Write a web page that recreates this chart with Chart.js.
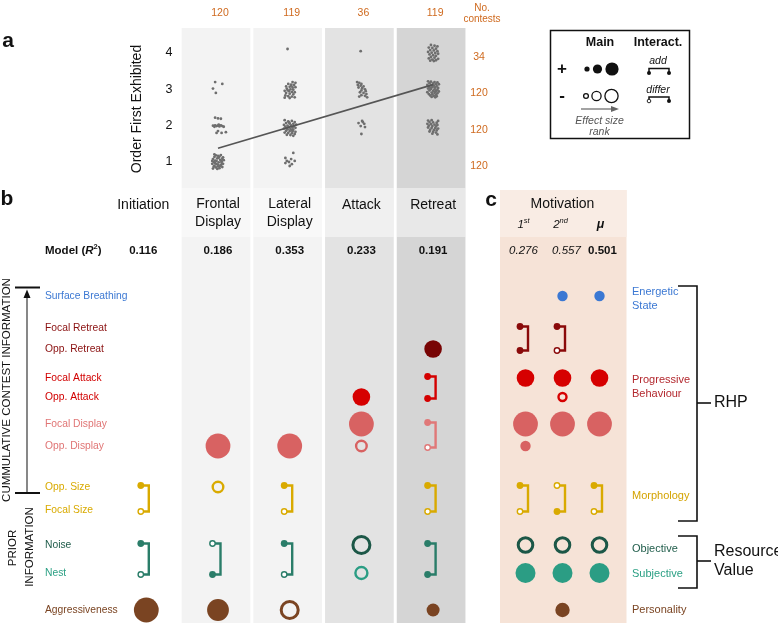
<!DOCTYPE html>
<html><head><meta charset="utf-8">
<script src="https://cdn.jsdelivr.net/npm/chart.js@4/dist/chart.umd.min.js"></script>
<style>html,body{margin:0;padding:0;background:#fff;}canvas{display:block;}</style>
</head><body>
<canvas id="c" width="778" height="623"></canvas>
<script>
// ================= DATA =================
// Panel a: order in which each behaviour was first exhibited
const orderColumns = ['Frontal Display', 'Lateral Display', 'Attack', 'Retreat'];
const contestsPerColumn = [120, 119, 36, 119];
const orderTicks = [1, 2, 3, 4];
const contestsPerOrder = [120, 120, 120, 34];
const trendLine = [1.38, 3.13]; // fitted order at Frontal Display and at Retreat
const frontalPoints = [[0.93,0.82],[0.97,0.85],[1.02,0.83],[1.06,0.86],[0.95,0.9],[1.0,0.88],[1.04,0.91],[0.92,0.95],[0.98,0.94],[1.07,0.95],[0.94,1.0],[1.01,0.99],[1.05,1.02],[0.96,1.04],[1.03,1.06],[0.93,1.08],[0.99,1.1],[1.06,1.09],[0.95,1.14],[1.02,1.15],[1.07,1.13],[0.97,1.18],[1.04,1.19],[0.94,0.87],[1.0,0.93],[1.05,0.98],[0.98,1.03],[1.01,1.12],[0.96,0.97],[1.03,0.89],[0.99,0.81],[1.08,1.05],[0.92,1.03],[1.0,1.17],[0.95,1.21],
  [0.96,2.22],[1.0,2.2],[1.04,2.19],[0.93,2.0],[0.96,2.01],[0.98,1.99],[1.0,2.0],[1.02,1.98],[1.04,2.01],[1.06,1.99],[0.95,1.97],[1.01,2.03],[1.08,1.97],[1.0,1.85],[1.05,1.8],[1.11,1.82],[0.98,1.8],
  [0.96,3.2],[1.06,3.15],[0.93,3.02],[0.97,2.9]];
const lateralPoints = [[1.97,4.11],
  [2.04,3.2],[2.08,3.18],[1.98,3.15],[2.02,3.13],[2.06,3.12],[1.95,3.08],[2.0,3.07],[2.04,3.05],[2.08,3.06],[1.96,3.02],[2.01,3.0],[2.05,2.99],[1.93,2.96],[1.99,2.95],[2.03,2.93],[2.07,2.92],[1.95,2.9],[2.0,2.88],[2.05,2.86],[1.94,2.83],[1.98,2.81],[2.03,2.8],[2.07,2.78],[1.93,2.77],[2.0,2.76],[2.02,3.1],[1.97,2.98],
  [1.93,2.15],[1.98,2.12],[2.03,2.13],[2.07,2.1],[1.95,2.07],[2.0,2.06],[2.05,2.05],[2.09,2.03],[1.92,2.02],[1.97,2.0],[2.02,2.01],[2.06,1.99],[1.94,1.97],[1.99,1.96],[2.04,1.95],[2.08,1.94],[1.92,1.92],[1.97,1.9],[2.01,1.91],[2.05,1.89],[1.95,1.86],[2.0,1.85],[2.04,1.84],[2.08,1.83],[1.93,1.81],[1.98,1.8],[2.03,1.79],[2.07,1.77],[1.96,1.75],[2.01,1.74],[2.05,1.72],[1.99,2.09],[2.03,1.88],[1.96,1.93],
  [2.05,1.25],[1.94,1.11],[2.02,1.08],[2.07,1.03],[1.99,1.0],[1.94,0.97],[2.03,0.94],[2.0,0.89],[1.96,1.03]];
const attackPoints = [[2.99,4.05],
  [2.94,3.2],[2.97,3.18],[3.0,3.15],[2.95,3.12],[2.99,3.1],[3.03,3.08],[2.96,3.05],[3.01,3.03],[3.05,3.0],[3.0,2.97],[3.06,2.95],[2.98,2.92],[3.03,2.9],[3.07,2.87],[3.0,2.84],[3.05,2.82],[2.97,2.8],[3.08,2.78],
  [2.96,2.07],[3.01,2.13],[3.04,2.05],[2.99,1.99],[3.05,1.96],[3.02,2.1],[3.0,1.77]];
const retreatPoints = [[3.97,4.22],[4.02,4.2],[4.06,4.18],[3.94,4.15],[3.99,4.14],[4.04,4.12],[3.96,4.08],[4.01,4.07],[4.06,4.05],[3.93,4.03],[3.98,4.01],[4.03,4.0],[4.07,3.98],[3.95,3.96],[4.0,3.94],[4.04,3.92],[3.97,3.89],[4.02,3.87],[3.94,3.85],[4.07,3.84],[3.99,3.82],[4.04,3.8],[3.96,3.79],[4.01,3.78],
  [3.93,3.22],[3.97,3.21],[4.02,3.2],[4.06,3.19],[3.95,3.17],[4.0,3.16],[4.04,3.15],[4.08,3.14],[3.92,3.12],[3.97,3.11],[4.01,3.1],[4.05,3.09],[3.94,3.07],[3.99,3.06],[4.03,3.05],[4.07,3.04],[3.93,3.02],[3.97,3.01],[4.02,3.0],[4.06,2.99],[3.95,2.97],[4.0,2.96],[4.04,2.95],[4.08,2.94],[3.92,2.92],[3.98,2.91],[4.02,2.9],[4.06,2.89],[3.94,2.87],[3.99,2.86],[4.04,2.85],[3.96,2.83],[4.01,2.82],[4.05,2.81],[3.98,2.79],[4.03,2.78],[4.0,3.13],[3.96,3.04],[4.03,2.93],
  [3.93,2.14],[3.98,2.15],[4.07,2.13],[3.95,2.1],[4.0,2.09],[4.05,2.08],[3.92,2.05],[3.97,2.04],[4.02,2.03],[4.06,2.02],[3.94,2.0],[3.99,1.99],[4.04,1.98],[3.93,1.95],[3.98,1.94],[4.03,1.93],[4.07,1.92],[3.96,1.89],[4.01,1.88],[4.05,1.87],[3.95,1.84],[4.0,1.83],[4.04,1.81],[3.99,1.78],[4.06,1.76]];

// Panels b and c: predictors, models, fit and effects (signed effect-size rank; + positive, - negative)
const predictors = ['Surface Breathing','Focal Retreat','Opp. Retreat','Focal Attack','Opp. Attack','Focal Display','Opp. Display','Opp. Size','Focal Size','Noise','Nest','Aggressiveness'];
const models = ['Initiation','Frontal Display','Lateral Display','Attack','Retreat'];
const modelR2 = ['0.116','0.186','0.353','0.233','0.191'];
const motivationModels = ['1st','2nd','\u03bc'];
const motivationR2 = ['0.276','0.557','0.501'];
const mainInitiation = [0,0,0,0,0,0,0,0,0,0,0,7];
const mainFrontal    = [0,0,0,0,0,0,7,-2,0,0,0,6];
const mainLateral    = [0,0,0,0,0,0,7,0,0,0,0,-5];
const mainAttack     = [0,0,0,0,4,7,-2,0,0,-5,-3,0];
const mainRetreat    = [0,0,4,0,0,0,0,0,0,0,0,2];
const mainMotiv1     = [0,0,0,4,0,7,1,0,0,-4,5,0];
const mainMotiv2     = [1,0,0,4,-1,7,0,0,0,-4,5,3];
const mainMotivMu    = [1,0,0,4,0,7,0,0,0,-4,5,0];
// interactions: [first predictor index of the pair, sign of first, sign of second]
const interInitiation = [[7,1,-1],[9,1,-1]];
const interFrontal    = [[9,-1,1]];
const interLateral    = [[7,1,-1],[9,1,-1]];
const interAttack     = [];
const interRetreat    = [[3,1,1],[5,1,-1],[7,1,-1],[9,1,1]];
const interMotiv1     = [[1,1,1],[7,1,-1]];
const interMotiv2     = [[1,1,-1],[7,-1,1]];
const interMotivMu    = [[7,1,-1]];

// ================= LAYOUT / STYLE =================
const W = 778, H = 623;
const ROW_Y = [4.5,7.7,9.8,12.7,14.6,17.3,19.5,23.6,25.9,29.4,32.2,35.9]; // row slots on the yb scale
const RANK_RADIUS = {1:5.2, 2:6.5, 3:7.2, 4:8.8, 5:10.0, 6:10.9, 7:12.4};
const MARK_COLORS  = ['#3b78d3','#780404','#780404','#d60000','#d60000','#d86262','#d86262','#d9aa00','#d9aa00','#1c5747','#2b9d84','#7a4422'];
const LABEL_COLORS = ['#3b78d3','#8a1010','#8a1010','#d10000','#d10000','#e07575','#e07575','#d9aa00','#d9aa00','#1f5c4a','#2ba084','#7a4422'];
const PAIR_COLORS  = {1:'#8a0a0a', 3:'#d40000', 5:'#e07878', 7:'#d9aa00', 9:'#2a7d69'};
const BAND_COLORS  = ['#f3f3f3','#f3f3f3','#e3e3e3','#d5d5d5'];
const ORANGE = '#cf6a1f';
const FONT = '"Liberation Sans", Arial, sans-serif';

function axisRange(p1, v1, p2, v2, size) {
  const k = (v2 - v1) / (p2 - p1);
  const a = v1 - p1 * k, b = v1 + (size - p1) * k;
  return {min: Math.min(a, b), max: Math.max(a, b)};
}

function effectData(arr, col) {
  return arr.map((v, i) => v ? {x: col, y: ROW_Y[i], rank: Math.abs(v), sign: Math.sign(v), row: i} : null).filter(Boolean);
}
const openBW = R => R > 8 ? 3 : 2.4;
function effectDataset(arr, col, xAxisID) {
  return {
    type: 'scatter', data: effectData(arr, col), xAxisID, yAxisID: 'yb', order: 2,
    pointStyle: 'circle',
    pointRadius: c => { const r = c.raw, R = RANK_RADIUS[r.rank]; return r.sign > 0 ? R : R - openBW(R) / 2; },
    pointBorderWidth: c => c.raw.sign > 0 ? 0 : openBW(RANK_RADIUS[c.raw.rank]),
    pointBackgroundColor: c => c.raw.sign > 0 ? MARK_COLORS[c.raw.row] : 'rgba(0,0,0,0)',
    pointBorderColor: c => MARK_COLORS[c.raw.row],
    pointHoverRadius: c => RANK_RADIUS[c.raw.rank]
  };
}

const interactionSets = [
  {scale: 'xb', col: 0, list: interInitiation}, {scale: 'xb', col: 1, list: interFrontal},
  {scale: 'xb', col: 2, list: interLateral}, {scale: 'xb', col: 3, list: interAttack},
  {scale: 'xb', col: 4, list: interRetreat}, {scale: 'xc', col: 0, list: interMotiv1},
  {scale: 'xc', col: 1, list: interMotiv2}, {scale: 'xc', col: 2, list: interMotivMu}
];

function txt(ctx, s, x, y, font, color, align, baseline) {
  ctx.font = font; ctx.fillStyle = color;
  ctx.textAlign = align || 'center'; ctx.textBaseline = baseline || 'middle';
  ctx.fillText(s, x, y);
}
function rtxt(ctx, s, x, y, font, color) {
  ctx.save(); ctx.translate(x, y); ctx.rotate(-Math.PI / 2);
  txt(ctx, s, 0, 0, font, color, 'center', 'middle'); ctx.restore();
}
function line(ctx, pts, color, w) {
  ctx.beginPath(); ctx.moveTo(pts[0][0], pts[0][1]);
  for (let i = 1; i < pts.length; i++) ctx.lineTo(pts[i][0], pts[i][1]);
  ctx.strokeStyle = color; ctx.lineWidth = w; ctx.stroke();
}
function dot(ctx, x, y, r, color, filled, bw) {
  ctx.beginPath(); ctx.arc(x, y, r, 0, Math.PI * 2);
  if (filled) { ctx.fillStyle = color; ctx.fill(); }
  else { ctx.fillStyle = '#fff'; ctx.fill(); ctx.strokeStyle = color; ctx.lineWidth = bw || 1.3; ctx.stroke(); }
}

const figurePlugin = {
  id: 'figure',
  beforeDatasetsDraw(chart) {
    const ctx = chart.ctx, s = chart.scales;
    ctx.save();
    // column bands (panels a and b)
    for (let c = 1; c <= 4; c++) {
      const l = s.xb.getPixelForValue(c - 0.5) - 0.5, r = s.xb.getPixelForValue(c + 0.5) - 3.5;
      ctx.fillStyle = BAND_COLORS[c - 1]; ctx.fillRect(l, 28, r - l, H - 28);
      ctx.fillStyle = 'rgba(255,255,255,0.45)'; ctx.fillRect(l, 188, r - l, 49);
    }
    // panel c background
    ctx.fillStyle = '#f6e3d7'; ctx.fillRect(500, 190, 126.5, H - 190);
    ctx.fillStyle = '#f9ece4'; ctx.fillRect(500, 190, 126.5, 47);
    ctx.restore();
  },
  afterDatasetsDraw(chart) {
    const ctx = chart.ctx, s = chart.scales;
    const xb = v => s.xb.getPixelForValue(v), xc = v => s.xc.getPixelForValue(v);
    const ya = v => s.ya.getPixelForValue(v), yb = v => s.yb.getPixelForValue(v);
    ctx.save();
    // ---- panel labels
    txt(ctx, 'a', 8, 41, 'bold 21px ' + FONT, '#111');
    txt(ctx, 'b', 7, 199, 'bold 21px ' + FONT, '#111');
    txt(ctx, 'c', 491, 200, 'bold 21px ' + FONT, '#111');
    // ---- panel a texts
    orderColumns.forEach((c, i) => txt(ctx, String(contestsPerColumn[i]), xb(i + 1) + 2, 13, '10.5px ' + FONT, ORANGE));
    txt(ctx, 'No.', 482, 8, '10px ' + FONT, ORANGE);
    txt(ctx, 'contests', 482, 19, '10px ' + FONT, ORANGE);
    orderTicks.forEach((t, i) => {
      txt(ctx, String(t), 169, ya(t), '12.5px ' + FONT, '#111');
      txt(ctx, String(contestsPerOrder[i]), 479, ya(t) + 4, '10.5px ' + FONT, ORANGE);
    });
    rtxt(ctx, 'Order First Exhibited', 137.5, 109, '14px ' + FONT, '#111');
    // ---- legend box
    ctx.strokeStyle = '#111'; ctx.lineWidth = 1.5; ctx.strokeRect(550.5, 30.5, 139, 108);
    txt(ctx, 'Main', 600, 43, 'bold 12.5px ' + FONT, '#111');
    txt(ctx, 'Interact.', 658, 43, 'bold 12.5px ' + FONT, '#111');
    txt(ctx, '+', 562, 69, 'bold 17px ' + FONT, '#111');
    txt(ctx, '-', 562, 96, 'bold 17px ' + FONT, '#111');
    [[587, 2.6], [597.5, 4.6], [612, 6.6]].forEach(([x, r]) => dot(ctx, x, 69, r, '#111', true));
    [[586, 2.4], [596.5, 4.6], [611.5, 6.6]].forEach(([x, r]) => { ctx.beginPath(); ctx.arc(x, 96, r, 0, Math.PI * 2); ctx.strokeStyle = '#111'; ctx.lineWidth = 1.3; ctx.stroke(); });
    line(ctx, [[581, 109], [613, 109]], '#666', 1.2);
    ctx.beginPath(); ctx.moveTo(619, 109); ctx.lineTo(611, 106); ctx.lineTo(611, 112); ctx.closePath(); ctx.fillStyle = '#666'; ctx.fill();
    txt(ctx, 'Effect size', 599.5, 121, 'italic 10.5px ' + FONT, '#555');
    txt(ctx, 'rank', 599.5, 132, 'italic 10.5px ' + FONT, '#555');
    txt(ctx, 'add', 658, 61, 'italic 10.5px ' + FONT, '#111');
    line(ctx, [[649, 73], [649, 68.5], [669, 68.5], [669, 73]], '#111', 1.5);
    dot(ctx, 649, 73, 2, '#111', true); dot(ctx, 669, 73, 2, '#111', true);
    txt(ctx, 'differ', 658, 90, 'italic 10.5px ' + FONT, '#111');
    line(ctx, [[649, 101], [649, 97], [669, 97], [669, 101]], '#111', 1.5);
    dot(ctx, 649, 101, 1.8, '#111', false, 0.9); dot(ctx, 669, 101, 2, '#111', true);
    // ---- panel b headers
    const hf = '14px ' + FONT;
    models.forEach((m, i) => {
      const parts = m.split(' ');
      const hx = xb(i) - (i === 0 ? 3 : 0);
      if (parts.length === 1) txt(ctx, m, hx, 205, hf, '#111');
      else { txt(ctx, parts[0], hx, 204, hf, '#111'); txt(ctx, parts[1], hx, 222.5, hf, '#111'); }
      txt(ctx, modelR2[i], hx, yb(0), 'bold 11.5px ' + FONT, '#111');
    });
    // Model (R2)
    let x = 45; const y0 = yb(0);
    ctx.font = 'bold 11.5px ' + FONT; txt(ctx, 'Model (', x, y0, ctx.font, '#111', 'left'); x += ctx.measureText('Model (').width;
    ctx.font = 'bold italic 11.5px ' + FONT; txt(ctx, 'R', x, y0, ctx.font, '#111', 'left'); x += ctx.measureText('R').width;
    ctx.font = 'bold 7.5px ' + FONT; txt(ctx, '2', x, y0 - 4, ctx.font, '#111', 'left'); x += ctx.measureText('2').width;
    txt(ctx, ')', x, y0, 'bold 11.5px ' + FONT, '#111', 'left');
    // row labels
    predictors.forEach((p, i) => txt(ctx, p, 45, yb(ROW_Y[i]), '10.3px ' + FONT, LABEL_COLORS[i], 'left'));
    // ---- panel c headers
    txt(ctx, 'Motivation', xc(1), 204, hf, '#111');
    motivationModels.forEach((m, i) => {
      const cx = xc(i) - (i === 2 ? -1 : 2), cy = 225;
      if (i === 2) txt(ctx, m, cx, cy, 'bold italic 12.5px ' + FONT, '#111');
      else {
        ctx.font = 'italic 11.5px ' + FONT; const w1 = ctx.measureText(m[0]).width;
        ctx.font = 'italic 7.5px ' + FONT; const w2 = ctx.measureText(m.slice(1)).width;
        const lx = cx - (w1 + w2) / 2;
        txt(ctx, m[0], lx, cy, 'italic 11.5px ' + FONT, '#111', 'left');
        txt(ctx, m.slice(1), lx + w1, cy - 4, 'italic 7.5px ' + FONT, '#111', 'left');
      }
      const f = i === 2 ? 'bold 11.5px ' : 'italic 11.5px ';
      txt(ctx, motivationR2[i], xc(i) + [-2, 4, 3][i], yb(0), f + FONT, '#111');
    });
    // ---- interaction brackets
    interactionSets.forEach(set => {
      set.list.forEach(([r, s1, s2]) => {
        const px = s[set.scale].getPixelForValue(set.col);
        const yt = yb(ROW_Y[r]) - 1.5, ybt = yb(ROW_Y[r + 1]) + 1.5;
        const col = PAIR_COLORS[r];
        const dx = px - 5.5, vx = px + 2.5;
        ctx.lineJoin = 'miter';
        line(ctx, [[dx, yt], [vx, yt], [vx, ybt], [dx, ybt]], col, 2.4);
        dot(ctx, dx, yt, s1 > 0 ? 3.4 : 2.7, col, s1 > 0, 1.4);
        dot(ctx, dx, ybt, s2 > 0 ? 3.4 : 2.7, col, s2 > 0, 1.4);
      });
    });
    // ---- left side annotation
    line(ctx, [[27, 296], [27, 493]], '#555', 1.4);
    line(ctx, [[15, 287.5], [40, 287.5]], '#111', 2);
    line(ctx, [[15, 493], [40, 493]], '#111', 2);
    ctx.beginPath(); ctx.moveTo(27, 289.5); ctx.lineTo(23.5, 298); ctx.lineTo(30.5, 298); ctx.closePath(); ctx.fillStyle = '#111'; ctx.fill();
    rtxt(ctx, 'CUMMULATIVE CONTEST INFORMATION', 7, 390, '11.5px ' + FONT, '#111');
    rtxt(ctx, 'PRIOR', 12.5, 548, '11.5px ' + FONT, '#111');
    rtxt(ctx, 'INFORMATION', 30, 547, '11.5px ' + FONT, '#111');
    // ---- right side categories
    const rf = '11px ' + FONT;
    txt(ctx, 'Energetic', 632, 292, rf, '#3b78d3', 'left'); txt(ctx, 'State', 632, 306, rf, '#3b78d3', 'left');
    txt(ctx, 'Progressive', 632, 380, rf, '#b3282e', 'left'); txt(ctx, 'Behaviour', 632, 394, rf, '#b3282e', 'left');
    txt(ctx, 'Morphology', 632, 496, rf, '#d4a300', 'left');
    txt(ctx, 'Objective', 632, 549, rf, '#1f5c4a', 'left');
    txt(ctx, 'Subjective', 632, 574, rf, '#2ba084', 'left');
    txt(ctx, 'Personality', 632, 610, rf, '#7a4422', 'left');
    line(ctx, [[678, 286], [697, 286], [697, 521], [678, 521]], '#111', 1.6);
    line(ctx, [[697, 403], [711, 403]], '#111', 1.6);
    txt(ctx, 'RHP', 714, 403, '16px ' + FONT, '#111', 'left');
    line(ctx, [[678, 536], [697, 536], [697, 588], [678, 588]], '#111', 1.6);
    line(ctx, [[697, 561], [711, 561]], '#111', 1.6);
    txt(ctx, 'Resource', 714, 552, '16px ' + FONT, '#111', 'left');
    txt(ctx, 'Value', 714, 571, '16px ' + FONT, '#111', 'left');
    ctx.restore();
  }
};

const allOrderPoints = [...frontalPoints, ...lateralPoints, ...attackPoints, ...retreatPoints].map(([x, y]) => ({x, y}));

new Chart(document.getElementById('c'), {
  type: 'scatter',
  data: {
    datasets: [
      {type: 'scatter', data: [{x: 1, y: trendLine[0]}, {x: 4, y: trendLine[1]}], xAxisID: 'xb', yAxisID: 'ya',
       showLine: true, borderColor: '#555', borderWidth: 1.6, pointRadius: 0, order: 0},
      {type: 'scatter', data: allOrderPoints, xAxisID: 'xb', yAxisID: 'ya',
       pointRadius: 1.4, pointBorderWidth: 0, pointBackgroundColor: '#6e6e6e', order: 1},
      effectDataset(mainInitiation, 0, 'xb'),
      effectDataset(mainFrontal, 1, 'xb'),
      effectDataset(mainLateral, 2, 'xb'),
      effectDataset(mainAttack, 3, 'xb'),
      effectDataset(mainRetreat, 4, 'xb'),
      effectDataset(mainMotiv1, 0, 'xc'),
      effectDataset(mainMotiv2, 1, 'xc'),
      effectDataset(mainMotivMu, 2, 'xc')
    ]
  },
  options: {
    responsive: false, animation: false, events: [],
    layout: {padding: 0, autoPadding: false},
    plugins: {legend: {display: false}, tooltip: {enabled: false}, title: {display: false}},
    scales: {
      x:  {type: 'linear', display: false},
      y:  {type: 'linear', display: false},
      xb: {type: 'linear', axis: 'x', display: false, ...axisRange(218, 1, 289.7, 2, W)},
      xc: {type: 'linear', axis: 'x', display: false, ...axisRange(525.5, 0, 562.5, 1, W)},
      ya: {type: 'linear', axis: 'y', display: false, ...axisRange(162, 1, 53, 4, H)},
      yb: {type: 'linear', axis: 'y', display: false, reverse: true, ...axisRange(251, 0, 261, 1, H)}
    }
  },
  plugins: [figurePlugin]
});
</script>
</body></html>
